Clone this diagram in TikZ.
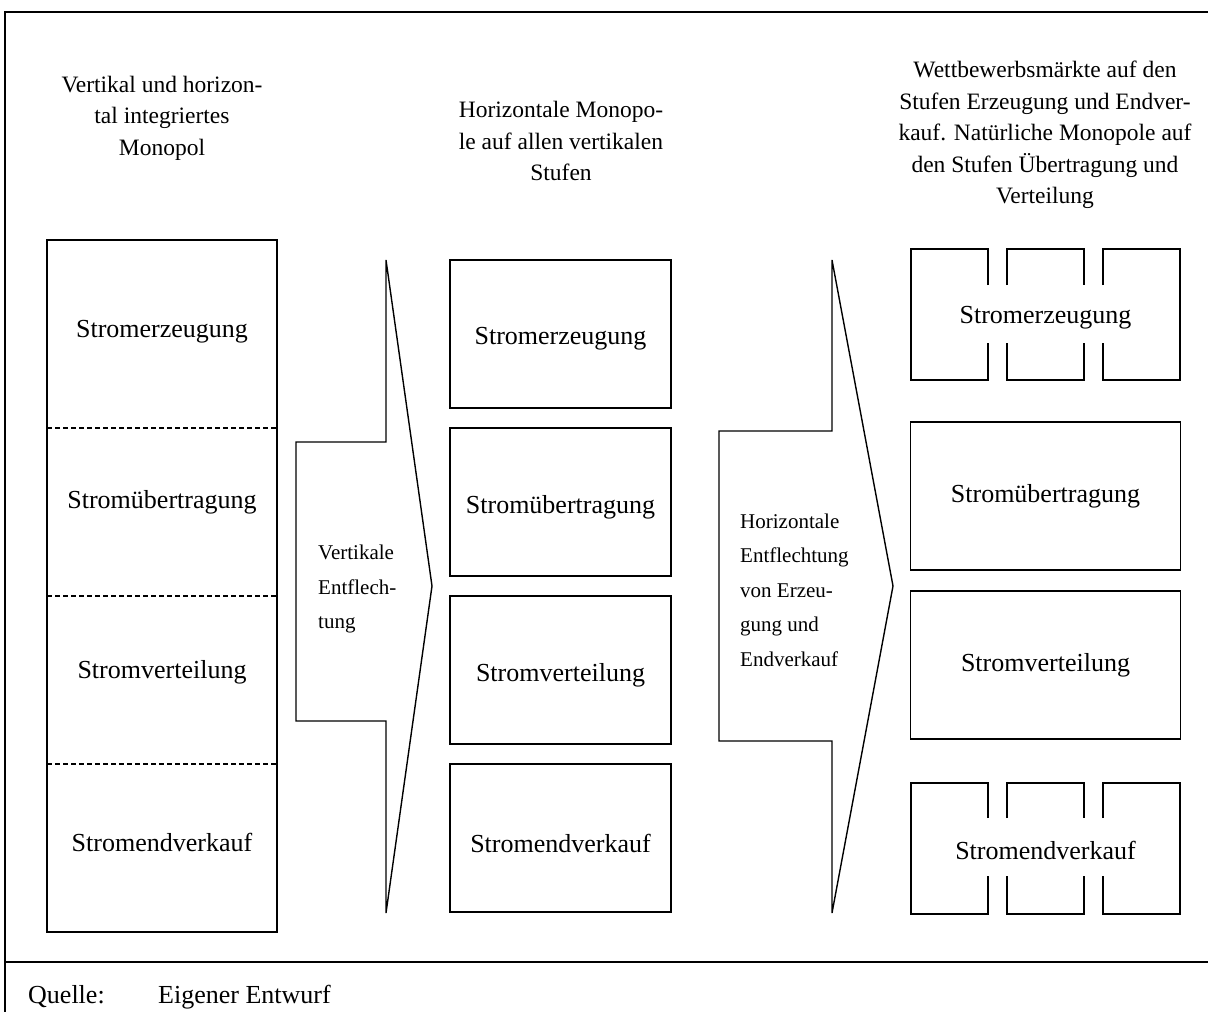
\documentclass[tikz,border=0pt]{standalone}
\usepackage{fontspec}
\setmainfont{Liberation Serif}
\begin{document}
\begin{tikzpicture}[x=1pt,y=-1pt,
  frameline/.style={line width=1.7pt},
  boxline/.style={line width=1.4pt, line join=miter},
  stage/.style={draw, line width=1.4pt, minimum width=221pt, minimum height=148pt, inner sep=0pt},
  widestage/.style={draw, line width=1.4pt, minimum width=270pt, minimum height=148pt, inner sep=0pt},
  boxtxt/.style={inner sep=0pt, font=\fontsize{26}{30}\selectfont},
  lbl/.style={inner sep=0pt, align=center, font=\fontsize{23.5}{31.5}\selectfont},
  arrtxt/.style={inner sep=0pt, align=left, anchor=west, font=\fontsize{21}{34.5}\selectfont},
  srctxt/.style={inner sep=0pt, anchor=base west, font=\fontsize{26}{30}\selectfont}]
\useasboundingbox (0,0) rectangle (1208,1012);
\fill[white] (0,0) rectangle (1208,1012);

% frame
\draw[frameline] (1208,12) -- (5,12) -- (5,1012);
\draw[frameline] (5,962) -- (1208,962);

% headings
\node[lbl] (h1) at (162,118) {Vertikal und horizon-\\tal integriertes\\Monopol};
\node[lbl] (h2) at (561,141) {Horizontale Monopo-\\le auf allen vertikalen\\Stufen};
\node[lbl] (h3) at (1045,135) {Wettbewerbsmärkte auf den\\Stufen Erzeugung und Endver-\\kauf. Natürliche Monopole auf\\den Stufen Übertragung und\\Verteilung};

% left column: integrated monopoly
\node[draw, line width=1.4pt, minimum width=230pt, minimum height=692pt, inner sep=0pt] (left) at (162,586) {};
\draw[boxline, dashed, dash pattern=on 5pt off 3pt] (47,428) -- (277,428);
\draw[boxline, dashed, dash pattern=on 5pt off 3pt] (47,596) -- (277,596);
\draw[boxline, dashed, dash pattern=on 5pt off 3pt] (47,764) -- (277,764);
\node[boxtxt] (l1) at (162,332) {Stromerzeugung};
\node[boxtxt] (l2) at (162,502) {Stromübertragung};
\node[boxtxt] (l3) at (162,672) {Stromverteilung};
\node[boxtxt] (l4) at (162,842) {Stromendverkauf};

% arrow 1
\draw[boxline] (386,260) -- (432,586) -- (386,913) -- (386,721) -- (296,721) -- (296,442) -- (386,442) -- cycle;
\node[arrtxt] (a1) at (318,589) {Vertikale\\Entflech-\\tung};

% middle column
\node[stage] (m1) at (560.5,334) {};
\node[stage] (m2) at (560.5,502) {};
\node[stage] (m3) at (560.5,670) {};
\node[stage] (m4) at (560.5,838) {};
\node[boxtxt] at ([yshift=-5pt]m1.center) {Stromerzeugung};
\node[boxtxt] at ([yshift=-5pt]m2.center) {Stromübertragung};
\node[boxtxt] at ([yshift=-5pt]m3.center) {Stromverteilung};
\node[boxtxt] at ([yshift=-5pt]m4.center) {Stromendverkauf};

% arrow 2
\draw[boxline] (832,260) -- (893,586) -- (832,913) -- (832,741) -- (719,741) -- (719,431) -- (832,431) -- cycle;
\node[arrtxt] (a2) at (740,590) {Horizontale\\Entflechtung\\von Erzeu-\\gung und\\Endverkauf};

% right column: split generation
\draw[boxline] (988,285) -- (988,249) -- (911,249) -- (911,380) -- (988,380) -- (988,343);
\draw[boxline] (1007,285) -- (1007,249) -- (1084,249) -- (1084,285);
\draw[boxline] (1007,343) -- (1007,380) -- (1084,380) -- (1084,343);
\draw[boxline] (1103,285) -- (1103,249) -- (1180,249) -- (1180,380) -- (1103,380) -- (1103,343);
\node[boxtxt] (r1) at (1045.5,318) {Stromerzeugung};

\node[widestage] (r2) at (1045.5,496) {};
\node[widestage] (r3) at (1045.5,665) {};
\node[boxtxt] at (r2) {Stromübertragung};
\node[boxtxt] at (r3) {Stromverteilung};

% right column: split retail
\draw[boxline] (988,818) -- (988,783) -- (911,783) -- (911,914) -- (988,914) -- (988,876);
\draw[boxline] (1007,818) -- (1007,783) -- (1084,783) -- (1084,818);
\draw[boxline] (1007,876) -- (1007,914) -- (1084,914) -- (1084,876);
\draw[boxline] (1103,818) -- (1103,783) -- (1180,783) -- (1180,914) -- (1103,914) -- (1103,876);
\node[boxtxt] (r4) at (1045.5,850) {Stromendverkauf};

% source
\node[srctxt] (q1) at (28,1003) {Quelle:};
\node[srctxt] (q2) at (158,1003) {Eigener Entwurf};
\end{tikzpicture}
\end{document}
